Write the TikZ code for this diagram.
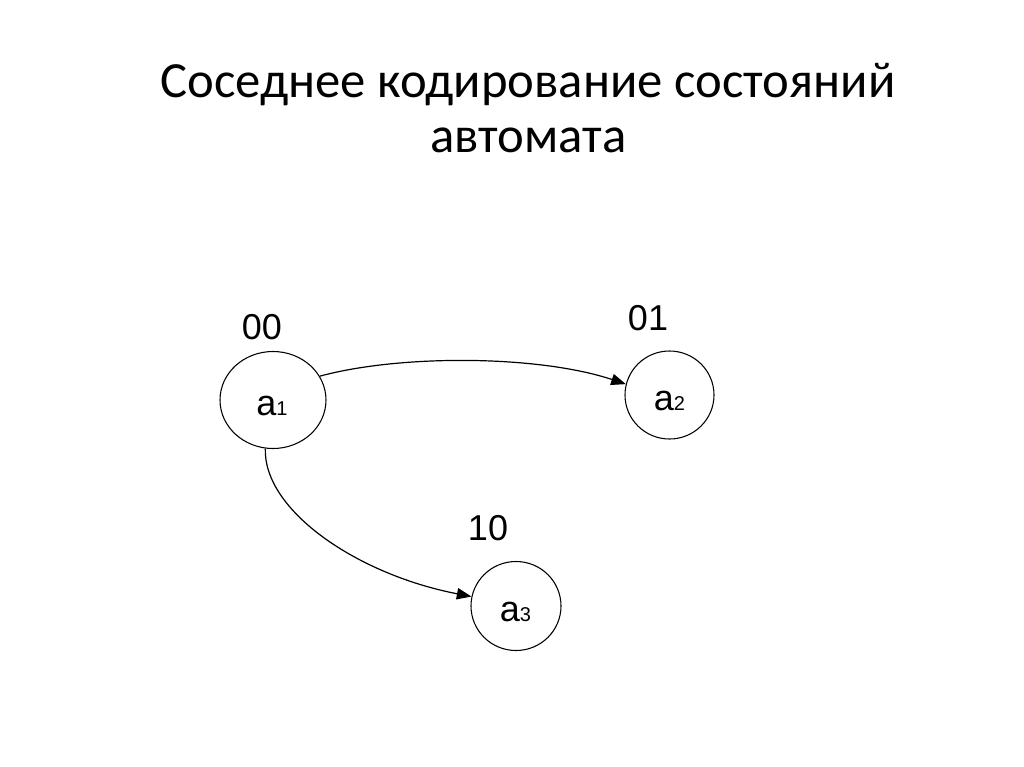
\documentclass[tikz,border=0pt]{standalone}
\usepackage{fontspec}
\setmainfont{Liberation Sans}
\newfontfamily\titlefont{Carlito}
\usetikzlibrary{shapes.geometric,arrows.meta}
\begin{document}
\begin{tikzpicture}[x=0.75pt,y=-0.75pt,
  state/.style={draw,ellipse,line width=0.8pt,inner sep=0pt},
  lbl/.style={inner sep=0pt,font=\fontsize{27}{27}\selectfont},
  ttl/.style={inner sep=0pt,anchor=base,font=\titlefont\fontsize{38}{46}\selectfont},
  conn/.style={line width=0.9pt,-{Triangle[length=11pt,width=8.5pt]}}]
\useasboundingbox[fill=white] (0,0) rectangle (1024,767);
\node[ttl] (t1) at (528,98) {Соседнее кодирование состояний};
\node[ttl] (t2) at (528.5,152) {автомата};
\node[state,minimum width=79.5pt,minimum height=72.75pt] (a1) at (273,400) {};
\node[state,minimum width=66.75pt,minimum height=66pt] (a2) at (669.5,395) {};
\node[state,minimum width=67.5pt,minimum height=66.75pt] (a3) at (516,606) {};
\node[lbl] (ta1) at (272,405.5) {a{\fontsize{15}{15}\selectfont 1}};
\node[lbl] (ta2) at (669.5,401) {a{\fontsize{15}{15}\selectfont 2}};
\node[lbl] (ta3) at (515.5,612) {a{\fontsize{15}{15}\selectfont 3}};
\node[lbl] (c1) at (262,327) {00};
\node[lbl] (c2) at (648,318) {01};
\node[lbl] (c3) at (488,528) {10};
\draw[conn] (a1.27) .. controls +(81,-22) and +(-87,-29) .. (a2.166);
\draw[conn] (a1.261) .. controls +(-2,62) and +(-114,-22) .. (a3.168);
\end{tikzpicture}
\end{document}
